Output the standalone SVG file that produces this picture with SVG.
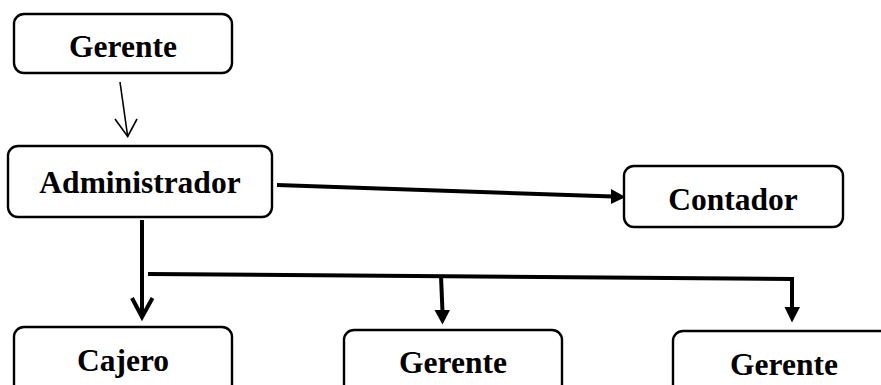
<svg xmlns="http://www.w3.org/2000/svg" width="881" height="385" viewBox="0 0 881 385">
  <style>
    .box { fill: #ffffff; stroke: #000000; stroke-width: 2.4; }
    .label { font-family: "Liberation Serif", "Times New Roman", serif; font-weight: bold; font-size: 31.5px; fill: #000000; text-anchor: middle; }
    .thin { fill: none; stroke: #000000; stroke-width: 1.6; }
    .thick { fill: none; stroke: #000000; stroke-width: 4; }
    .head { fill: #000000; stroke: none; }
  </style>
  <rect x="0" y="0" width="881" height="385" fill="#ffffff"/>

  <g id="connectors">
    <!-- Gerente to Administrador: thin line, open arrowhead -->
    <line class="thin" x1="120" y1="82" x2="127.7" y2="136.5"/>
    <polyline class="thin" points="115,119 127.7,136.5 137,119"/>

    <!-- Administrador to Contador -->
    <line class="thick" x1="277" y1="185" x2="613" y2="196.5"/>
    <polygon class="head" points="611,189 625.5,197 611,204"/>

    <!-- Administrador down to Cajero: open arrowhead -->
    <line class="thick" x1="142" y1="220" x2="142" y2="316"/>
    <polyline class="thick" points="132,298 142,317 152.5,298"/>

    <!-- Branch bar to the other two boxes -->
    <polyline class="thick" points="148,274 792,279 792,309"/>
    <polygon class="head" points="784.5,307 800,307 792,322.5"/>

    <line class="thick" x1="441" y1="276" x2="442.5" y2="312"/>
    <polygon class="head" points="434.5,310 450,310 442.5,324.5"/>
  </g>

  <g id="node-gerente-top">
    <rect class="box" x="14" y="14" width="218" height="59" rx="10"/>
    <text class="label" x="123" y="57">Gerente</text>
  </g>

  <g id="node-administrador">
    <rect class="box" x="8" y="146" width="264" height="71" rx="10"/>
    <text class="label" x="140" y="193">Administrador</text>
  </g>

  <g id="node-contador">
    <rect class="box" x="624" y="166" width="219" height="61" rx="10"/>
    <text class="label" x="733" y="210">Contador</text>
  </g>

  <g id="node-cajero">
    <rect class="box" x="14" y="327" width="218" height="80" rx="10"/>
    <text class="label" x="123" y="371">Cajero</text>
  </g>

  <g id="node-gerente-mid">
    <rect class="box" x="344" y="330" width="218" height="80" rx="10"/>
    <text class="label" x="453" y="373">Gerente</text>
  </g>

  <g id="node-gerente-right">
    <rect class="box" x="673" y="331" width="222" height="80" rx="10"/>
    <text class="label" x="784" y="375">Gerente</text>
  </g>
</svg>
